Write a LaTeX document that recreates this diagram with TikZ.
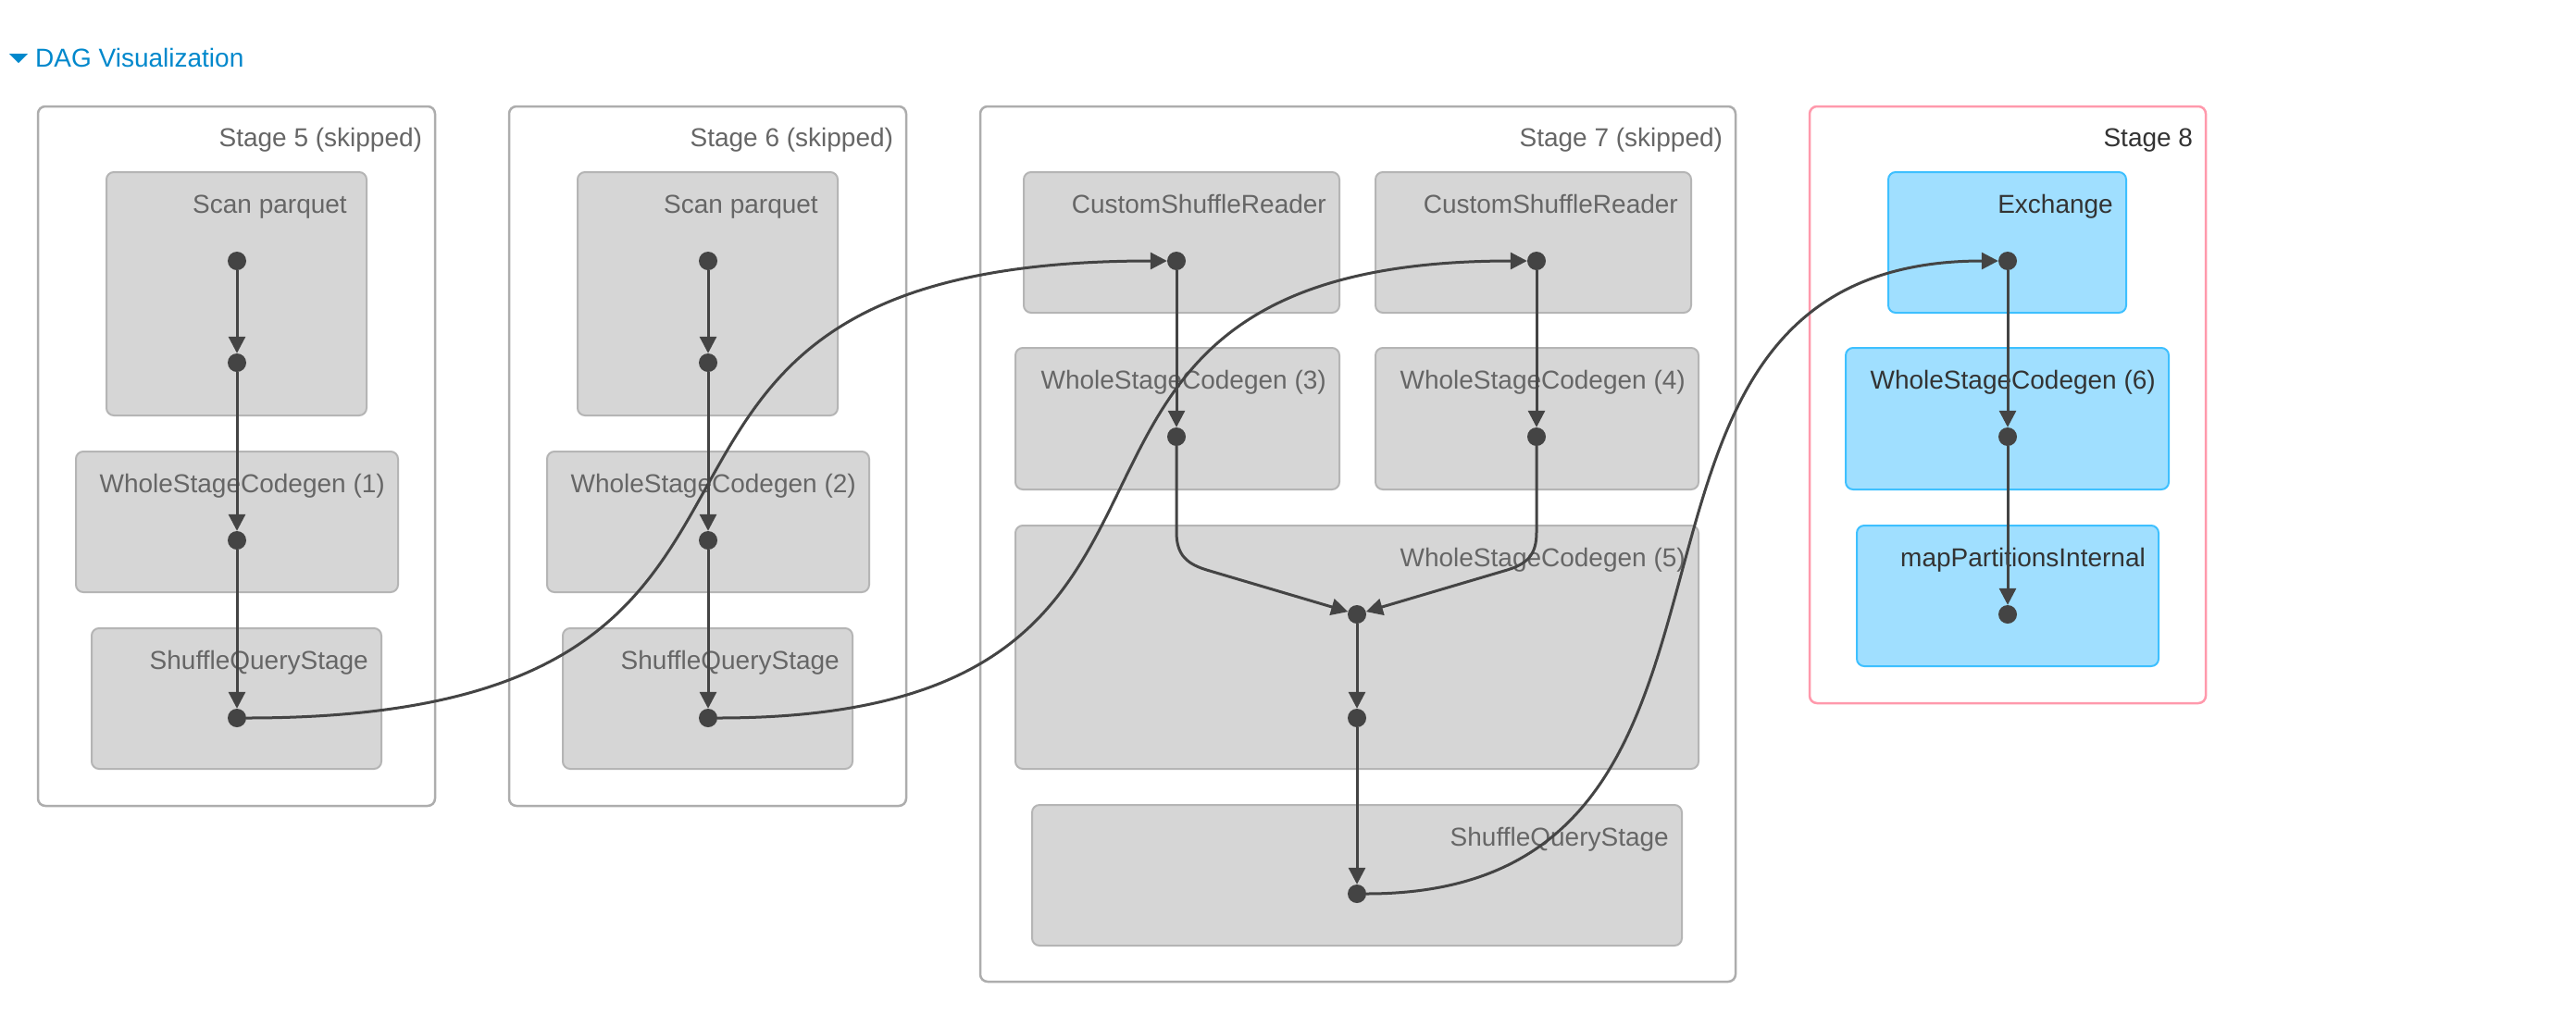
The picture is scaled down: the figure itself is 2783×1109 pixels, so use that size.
\documentclass[tikz,border=0pt]{standalone}
\usepackage{fontspec}
\setmainfont{Liberation Sans}
\usetikzlibrary{arrows.meta,fit}
\definecolor{skipfill}{HTML}{D6D6D6}
\definecolor{skipdraw}{HTML}{B5B5B5}
\definecolor{stageskip}{HTML}{ADADAD}
\definecolor{stagelive}{HTML}{FF99AC}
\definecolor{livefill}{HTML}{A0DFFF}
\definecolor{livedraw}{HTML}{3EC0FF}
\definecolor{skiptext}{HTML}{666666}
\definecolor{livetext}{HTML}{333333}
\definecolor{edgecol}{HTML}{444444}
\definecolor{titleblue}{HTML}{0088CC}
\newcommand\mybox[8]{%
  \node[#1, fit={(#4,#5) (#6,#7)}] (#3) {};
  \node[lbl, #2] (#3-t) at ([xshift=-15pt,yshift=-45pt]#3.north east) {#8};}
\begin{document}
\begin{tikzpicture}[x=1pt,y=-1pt,
  stageskipbox/.style={draw=stageskip, fill=white, line width=2.5pt, rounded corners=8pt, inner sep=0pt},
  stagelivebox/.style={draw=stagelive, fill=white, line width=2.5pt, rounded corners=8pt, inner sep=0pt},
  gbox/.style={draw=skipdraw, fill=skipfill, line width=2pt, rounded corners=8pt, inner sep=0pt},
  bbox/.style={draw=livedraw, fill=livefill, line width=2pt, rounded corners=8pt, inner sep=0pt},
  lbl/.style={font=\fontsize{28}{34}\selectfont, anchor=base east, inner sep=0pt, text=skiptext},
  livelbl/.style={text=livetext},
  nolbl/.style={},
  scanlbl/.style={xshift=-7pt},
  dot/.style={circle, fill=edgecol, inner sep=0pt, minimum size=20pt},
  edge/.style={draw=edgecol, line width=3pt, line join=round, -{Triangle[length=18pt,width=18pt]}}]
\fill[white] (0,0) rectangle (2783,1109);
\useasboundingbox (0,0) rectangle (2783,1109);
% title
\fill[titleblue] (10,58) -- (30,58) -- (20,68) -- cycle;
\node[font=\fontsize{28}{34}\selectfont, text=titleblue, anchor=base west, inner sep=0pt] (title) at (38,72) {DAG Visualization};
% stages
\mybox{stageskipbox}{nolbl}{st5}{41}{115}{470}{871}{Stage 5 (skipped)}
\mybox{stageskipbox}{nolbl}{st6}{550}{115}{979}{871}{Stage 6 (skipped)}
\mybox{stageskipbox}{nolbl}{st7}{1059}{115}{1875}{1061}{Stage 7 (skipped)}
\mybox{stagelivebox}{livelbl}{st8}{1955}{115}{2383}{760}{Stage 8}
% stage 5
\mybox{gbox}{scanlbl}{sp5}{115}{186}{396}{449}{Scan parquet}
\mybox{gbox}{nolbl}{wc1}{82}{488}{430}{640}{WholeStageCodegen (1)}
\mybox{gbox}{nolbl}{sq5}{99}{679}{412}{831}{ShuffleQueryStage}
% stage 6
\mybox{gbox}{scanlbl}{sp6}{624}{186}{905}{449}{Scan parquet}
\mybox{gbox}{nolbl}{wc2}{591}{488}{939}{640}{WholeStageCodegen (2)}
\mybox{gbox}{nolbl}{sq6}{608}{679}{921}{831}{ShuffleQueryStage}
% stage 7
\mybox{gbox}{nolbl}{cr1}{1106}{186}{1447}{338}{CustomShuffleReader}
\mybox{gbox}{nolbl}{cr2}{1486}{186}{1827}{338}{CustomShuffleReader}
\mybox{gbox}{nolbl}{wc3}{1097}{376}{1447}{529}{WholeStageCodegen (3)}
\mybox{gbox}{nolbl}{wc4}{1486}{376}{1835}{529}{WholeStageCodegen (4)}
\mybox{gbox}{nolbl}{wc5}{1097}{568}{1835}{831}{WholeStageCodegen (5)}
\mybox{gbox}{nolbl}{sq7}{1115}{870}{1817}{1022}{ShuffleQueryStage}
% stage 8
\mybox{bbox}{livelbl}{ex8}{2040}{186}{2297}{338}{Exchange}
\mybox{bbox}{livelbl}{wc6}{1994}{376}{2343}{529}{WholeStageCodegen (6)}
\mybox{bbox}{livelbl}{mp8}{2006}{568}{2332}{720}{mapPartitionsInternal}
% dots
\node[dot] (a1) at (256,282) {};
\node[dot] (a2) at (256,392) {};
\node[dot] (a3) at (256,584) {};
\node[dot] (a4) at (256,776) {};
\node[dot] (b1) at (765,282) {};
\node[dot] (b2) at (765,392) {};
\node[dot] (b3) at (765,584) {};
\node[dot] (b4) at (765,776) {};
\node[dot] (c1) at (1271,282) {};
\node[dot] (c2) at (1660,282) {};
\node[dot] (c3) at (1271,472) {};
\node[dot] (c4) at (1660,472) {};
\node[dot] (c5) at (1466,664) {};
\node[dot] (c6) at (1466,776) {};
\node[dot] (c7) at (1466,966) {};
\node[dot] (e1) at (2169,282) {};
\node[dot] (e2) at (2169,472) {};
\node[dot] (e3) at (2169,664) {};
% edges
\draw[edge] (a1) -- (a2);
\draw[edge] (a2) -- (a3);
\draw[edge] (a3) -- (a4);
\draw[edge] (b1) -- (b2);
\draw[edge] (b2) -- (b3);
\draw[edge] (b3) -- (b4);
\draw[edge] (c1) -- (c3);
\draw[edge] (c2) -- (c4);
\draw[edge] (c3) -- (1271,575) .. controls (1271,600) and (1282,610) .. (1307,617) -- (c5);
\draw[edge] (c4) -- (1660,575) .. controls (1660,600) and (1650,610) .. (1625,617) -- (c5);
\draw[edge] (c5) -- (c6);
\draw[edge] (c6) -- (c7);
\draw[edge] (e1) -- (e2);
\draw[edge] (e2) -- (e3);
\draw[edge] (a4) .. controls (978,776) and (550,282) .. (c1);
\draw[edge] (b4) .. controls (1400,776) and (1023,282) .. (c2);
\draw[edge] (c7) .. controls (1965,966) and (1670,282) .. (e1);
\end{tikzpicture}
\end{document}
